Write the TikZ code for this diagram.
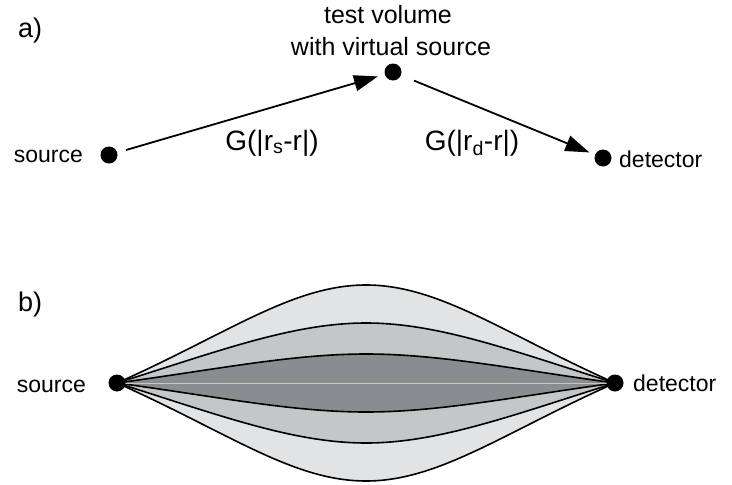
\documentclass[tikz,border=0pt]{standalone}
\usepackage{fontspec}
\setmainfont{Liberation Sans}
\usetikzlibrary{arrows.meta}
\definecolor{lensA}{HTML}{E2E3E4}
\definecolor{lensB}{HTML}{C5C6C8}
\definecolor{lensC}{HTML}{8B8C8F}
\begin{document}
\begin{tikzpicture}[x=1pt,y=-1pt,
  dot/.style={circle,fill=black,inner sep=0pt,minimum size=17pt},
  lbl/.style={font=\fontsize{23}{26}\selectfont,inner sep=0pt},
  tlbl/.style={font=\fontsize{25}{30}\selectfont,inner sep=0pt},
  glbl/.style={font=\fontsize{28}{30}\selectfont,inner sep=0pt},
  plbl/.style={font=\fontsize{27}{30}\selectfont,inner sep=0pt},
  arr/.style={line width=1.8pt,-{Triangle[length=24pt,width=16pt]}},
  lens/.style={line width=1.6pt,draw=black}]
\useasboundingbox (0,0) rectangle (732,485);
% ---------- a) ----------
\node[plbl,anchor=base west] (pa) at (18,37) {a)};
\node[dot] (src) at (109,155) {};
\node[dot] (tv) at (393,72) {};
\node[dot] (det) at (603,158) {};
\node[lbl,anchor=base east] (srcl) at (83,162) {source};
\node[lbl,anchor=base west] (detl) at (619,167) {detector};
\node[tlbl,anchor=base] (tvl1) at (388,23) {test volume};
\node[tlbl,anchor=base] (tvl2) at (391,55) {with virtual source};
\draw[arr,shorten <=9pt,shorten >=7pt] (src) -- (tv);
\draw[arr,shorten <=14pt,shorten >=6pt] (tv) -- (det);
\node[glbl,anchor=base] (g1) at (272,150) {G(|r\textsubscript{s}-r|)};
\node[glbl,anchor=base] (g2) at (472,150) {G(|r\textsubscript{d}-r|)};
% ---------- b) ----------
\node[plbl,anchor=base west] (pb) at (18,311) {b)};
\coordinate (sb) at (117,383);
\coordinate (db) at (615,383);
\filldraw[lens,fill=lensA] (sb) .. controls (229,333) and (293,285) .. (366,285)
  .. controls (439,285) and (503,333) .. (db)
  .. controls (503,433) and (439,481) .. (366,481)
  .. controls (293,481) and (229,433) .. (sb) -- cycle;
\filldraw[lens,fill=lensB] (sb) .. controls (219,351) and (293,323) .. (366,323)
  .. controls (439,323) and (513,351) .. (db)
  .. controls (513,415) and (439,443) .. (366,443)
  .. controls (293,443) and (219,415) .. (sb) -- cycle;
\filldraw[lens,fill=lensC] (sb) .. controls (219,369) and (293,354) .. (366,354)
  .. controls (439,354) and (513,369) .. (db)
  .. controls (513,397) and (439,412) .. (366,412)
  .. controls (293,412) and (219,397) .. (sb) -- cycle;
\draw[line width=0.8pt,draw=gray!45] (sb) -- (db);
\node[dot] (srcb) at (sb) {};
\node[dot] (detb) at (db) {};
\node[lbl,anchor=base east] (srcbl) at (86,392) {source};
\node[lbl,anchor=base west] (detbl) at (633,391) {detector};
\end{tikzpicture}
\end{document}
